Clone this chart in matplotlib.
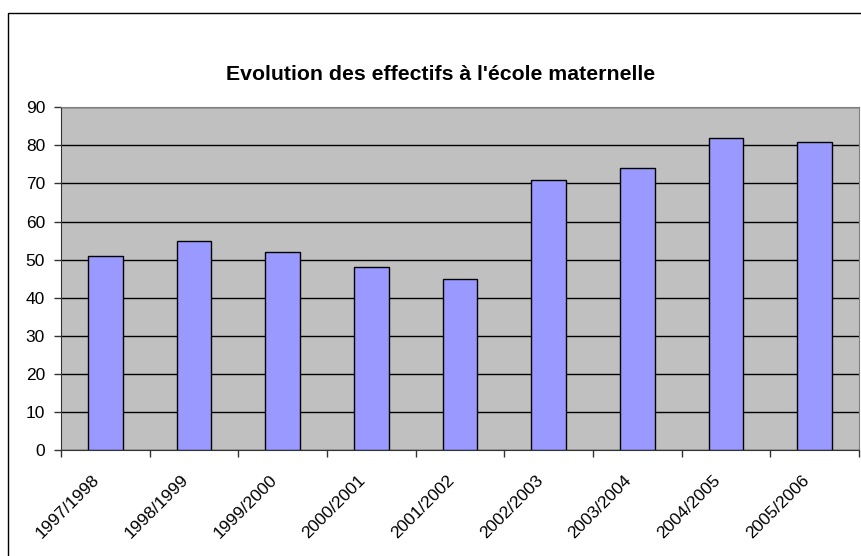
import matplotlib
matplotlib.use("Agg")
import matplotlib.pyplot as plt
from matplotlib.patches import Rectangle
from matplotlib.transforms import ScaledTranslation

years = ['1997/1998', '1998/1999', '1999/2000', '2000/2001', '2001/2002',
         '2002/2003', '2003/2004', '2004/2005', '2005/2006']
effectifs = [51, 55, 52, 48, 45, 71, 74, 82, 81]

plt.rcParams['font.family'] = ['Liberation Sans', 'DejaVu Sans']

fig = plt.figure(figsize=(8.61, 5.56), dpi=100)
ax = fig.add_axes([61/861, 1 - 450/556, (859 - 61)/861, (450 - 107.3)/556])

# outer chart frame (cut by the picture edges)
fig.patches.append(Rectangle((7.5/861, -0.1), 1.1, 1 - 13/556 + 0.1,
                             transform=fig.transFigure, fill=False,
                             edgecolor='black', linewidth=1.0, clip_on=False))

x = list(range(len(years)))
ax.set_facecolor('#c0c0c0')
ax.bar(x, effectifs, width=0.39, color='#9999ff', edgecolor='black', linewidth=1.0, zorder=3)

ax.set_xlim(-0.5, len(years) - 0.5)
ax.set_ylim(0, 90)
ax.set_yticks(range(0, 91, 10))
ax.yaxis.grid(True, color='black', linewidth=1.0, zorder=1)
ax.set_axisbelow(True)

ax.set_xticks([i - 0.5 for i in range(len(years) + 1)])
ax.set_xticklabels([])
ax.set_xticks(x, minor=True)
ax.set_xticklabels(years, minor=True, rotation=45, ha='right', va='center',
                   rotation_mode='anchor', fontsize=12.5)
ax.tick_params(axis='x', which='minor', length=0, pad=20)
ax.tick_params(axis='x', which='major', length=5, width=1, color='#333333')
ax.tick_params(axis='y', length=5, width=1, pad=6.5, labelsize=12.5, color='#333333')

# nudge rotated labels to the left, as Excel places them
shift = ScaledTranslation(-0.08, 0, fig.dpi_scale_trans)
for lab in ax.get_xticklabels(minor=True):
    lab.set_transform(lab.get_transform() + shift)

for s in ['top', 'right']:
    ax.spines[s].set_color('#808080')
for s in ['left', 'bottom']:
    ax.spines[s].set_color('#333333')

fig.text(441/861, 1 - 75/556, "Evolution des effectifs à l'école maternelle",
         ha='center', va='center', fontsize=15.3, fontweight='bold')

fig.savefig('out.png', dpi=100)
